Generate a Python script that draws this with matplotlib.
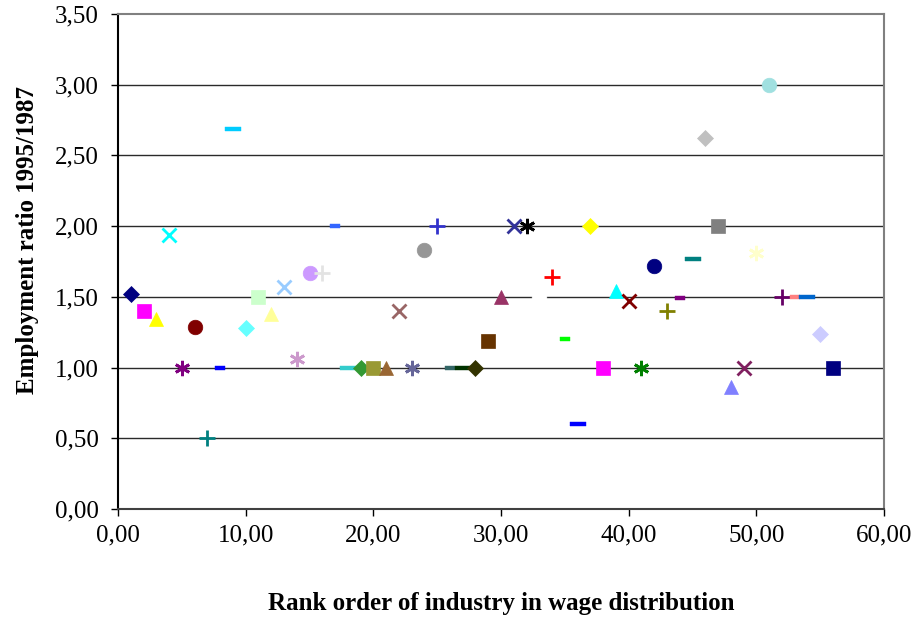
import matplotlib.pyplot as plt
from matplotlib.ticker import FuncFormatter, MultipleLocator

plt.rcParams['font.family'] = ['Liberation Serif', 'DejaVu Serif']

# rank order of industry (x) and employment ratio 1995/1987 (y)
rank = [1, 2, 3, 4, 5, 6, 7, 8, 9, 10, 11, 12, 13, 14, 15, 16, 17, 18, 19, 20,
        21, 22, 23, 24, 25, 26, 27, 28, 29, 30, 31, 32, 33, 34, 35, 36, 37, 38,
        39, 40, 41, 42, 43, 44, 45, 46, 47, 48, 49, 50, 51, 52, 53, 54, 55, 56]
ratio = [1.52, 1.40, 1.34, 1.94, 1.00, 1.29, 0.50, 1.00, 2.69, 1.28,
         1.50, 1.38, 1.57, 1.06, 1.67, 1.67, 2.00, 1.00, 1.00, 1.00,
         1.00, 1.40, 1.00, 1.83, 2.00, 1.00, 1.00, 1.00, 1.19, 1.50,
         2.00, 2.00, 1.50, 1.64, 1.20, 0.60, 2.00, 1.00, 1.54, 1.47,
         1.00, 1.72, 1.40, 1.49, 1.77, 2.62, 2.00, 0.86, 1.00, 1.81,
         3.00, 1.50, 1.50, 1.50, 1.24, 1.00]

# excel-style series colours
colors = ['#000080', '#FF00FF', '#FFFF00', '#00FFFF', '#800080', '#800000', '#008080', '#0000FF',
          '#00CCFF', '#66FFFF', '#CCFFCC', '#FFFF99', '#99CCFF', '#CC99CC', '#CC99FF', '#E3E3E3',
          '#3366FF', '#33CCCC', '#339933', '#999933', '#996633', '#996666', '#666699', '#969696',
          '#3333CC', '#336666', '#003300', '#333300', '#663300', '#993366', '#333399', '#000000',
          '#FFFFFF', '#FF0000', '#00FF00', '#0000FF', '#FFFF00', '#FF00FF', '#00FFFF', '#800000',
          '#008000', '#000080', '#808000', '#800080', '#008080', '#C0C0C0', '#808080', '#8080FF',
          '#802060', '#FFFFCC', '#A0E0E0', '#660066', '#FF8080', '#0066CC', '#CCCCFF', '#000080']

short_dash = [(-1, -0.5), (1, -0.5), (1, 0.5), (-1, 0.5), (-1, -0.5)]
long_dash = [(-1, -0.3), (1, -0.3), (1, 0.3), (-1, 0.3), (-1, -0.3)]
# marker, size, edge width, filled
marker_cycle = [
    ('D', 8.0, 0.5, True),
    ('s', 10.0, 0.5, True),
    ('^', 10.5, 0.5, True),
    ('x', 9.5, 2.0, False),
    ((6, 2, 0), 11.0, 2.0, False),
    ('o', 10.5, 0.5, True),
    ('+', 11.0, 2.0, False),
    (short_dash, 6.5, 0.3, True),
    (long_dash, 11.0, 0.3, True),
]

fig = plt.figure(figsize=(9.18, 6.17), dpi=100)
ax = fig.add_axes([118 / 918, 108 / 617, 766 / 918, 495 / 617])

for i, (xv, yv) in enumerate(zip(rank, ratio)):
    m, ms, mew, filled = marker_cycle[i % len(marker_cycle)]
    c = colors[i]
    ax.plot([xv], [yv], linestyle='none', marker=m, markersize=ms,
            markerfacecolor=c if filled else 'none', markeredgecolor=c,
            markeredgewidth=mew, zorder=3)

ax.set_xlim(0, 60)
ax.set_ylim(0, 3.5)
ax.xaxis.set_major_locator(MultipleLocator(10))
ax.yaxis.set_major_locator(MultipleLocator(0.5))
fmt = FuncFormatter(lambda v, p: f"{v:.2f}".replace('.', ','))
ax.xaxis.set_major_formatter(fmt)
ax.yaxis.set_major_formatter(fmt)

for yv in [0.5, 1.0, 1.5, 2.0, 2.5, 3.0]:
    ax.axhline(yv, color='#2a2a2a', lw=1.0, zorder=1)

ax.spines['left'].set_color('black')
ax.spines['bottom'].set_color('#404040')
ax.spines['top'].set_color('#808080')
ax.spines['right'].set_color('#808080')
for s in ax.spines.values():
    s.set_linewidth(1.5)

ax.tick_params(axis='both', direction='out', length=5, width=1, labelsize=18, colors='black')
ax.tick_params(axis='x', pad=6)
ax.tick_params(axis='y', pad=9)

ax.set_xlabel('Rank order of industry in wage distribution', fontsize=18, fontweight='bold')
ax.set_ylabel('Employment ratio 1995/1987', fontsize=18, fontweight='bold')
ax.xaxis.set_label_coords(0.5, -0.19)
ax.yaxis.set_label_coords(-0.1175, 0.543)
ax.xaxis.label.set_va('center')
ax.yaxis.label.set_va('center')

fig.savefig('out.png', dpi=100)
